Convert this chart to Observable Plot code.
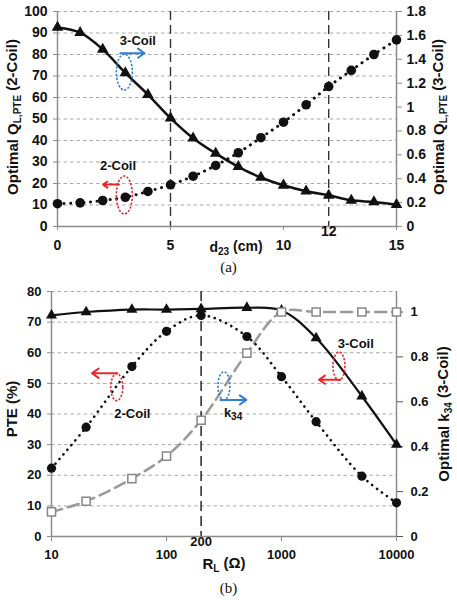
<!DOCTYPE html>
<html><head><meta charset="utf-8">
<script src="https://cdn.jsdelivr.net/npm/d3@7"></script>
<script src="https://cdn.jsdelivr.net/npm/@observablehq/plot@0.6"></script>
<style>
body{margin:0;background:#fff;}
#wrap{position:relative;width:457px;height:600px;font-family:"Liberation Sans",Arial,sans-serif;}
#a,#b{position:absolute;left:0;}
#a{top:0px}
#b{top:280px}
#a svg text, #b svg text{font-family:"Liberation Sans",Arial,sans-serif;font-weight:bold;}
.cap{position:absolute;left:0;width:457px;text-align:center;font-family:"Liberation Serif","Times New Roman",serif;font-size:15px;line-height:17px;color:#111;}
</style></head><body>
<div id="wrap">
  <div id="a"></div>
  <div class="cap" style="top:259px">(a)</div>
  <div id="b"></div>
  <div class="cap" style="top:580px">(b)</div>
</div>
<script>
// ---------- Panel (a) data ----------
const d23 = [0,1,2,3,4,5,6,7,8,9,10,11,12,13,14,15];
const qlTwoCoil = [10.6,11.0,12.1,13.6,16.3,19.4,23.4,28.4,34.3,41.3,48.5,56.6,65.1,72.6,80.0,86.8];
const qlThreeCoil = [1.666,1.623,1.483,1.286,1.104,0.907,0.739,0.612,0.500,0.410,0.345,0.295,0.261,0.219,0.205,0.183];
const aLeftTicks = [0,10,20,30,40,50,60,70,80,90,100];
const aRightTicks = [0,0.2,0.4,0.6,0.8,1,1.2,1.4,1.6,1.8];
const aXTicks = [0,5,10,15];
const aMarkers = [5,12];
const aRaisedLabel = [12];

// ---------- Panel (b) data ----------
const RL = [10,20,50,100,200,500,1000,2000,5000,10000];
const pteTwoCoil = [22.3,35.7,55.5,67.0,72.2,65.3,52.2,37.5,19.7,11.0];
const pteThreeCoil = [72.2,73.3,74.1,74.1,74.3,74.7,73.8,64.8,45.8,30.0];
const k34 = [0.110,0.157,0.258,0.358,0.518,0.817,1.0,1.0,1.0,1.0];
const bLeftTicks = [0,10,20,30,40,50,60,70,80];
const bRightTicks = [0,0.2,0.4,0.6,0.8,1];
const bXTicks = [10,100,1000,10000];
const bMarkers = [200];
const bRaisedLabel = [200];

const kA = 100/1.8;   // right axis -> left axis units (a)
const kB = 73.3;      // right axis -> left axis units (b)

const A = d23.map((d,i)=>({d, two: qlTwoCoil[i], three: qlThreeCoil[i]*kA}));
const B = RL.map((r,i)=>({r, two: pteTwoCoil[i], three: pteThreeCoil[i], k: k34[i]*kB}));

const RED = "#e8262b", BLUE = "#2f7fd6";

function addParts(t, parts, sub){
  for (const [s, isSub] of parts){
    const ts = t.append("tspan").text(s);
    if (isSub) ts.attr("font-size", sub).attr("dy", "0.3em");
    else if (t.node().childNodes.length>1) ts.attr("dy", "-0.3em");
  }
}

function annotations(items){
  return (index, scales) => {
    const g = d3.create("svg:g");
    for (const a of items){
      const px = scales.x(a.x), py = scales.y(a.y);
      if (a.type === "ellipse"){
        g.append("ellipse").attr("cx",px).attr("cy",py).attr("rx",a.rx).attr("ry",a.ry)
          .attr("fill","none").attr("stroke",a.color).attr("stroke-width",1.6).attr("stroke-dasharray","2.2,1.6");
      } else {
        const t = g.append("text").attr("x",px).attr("y",py).attr("text-anchor","middle")
          .attr("dy","0.35em").attr("font-weight","bold").attr("font-size",13).attr("fill","#111");
        addParts(t, a.parts, 10);
      }
    }
    return g.node();
  };
}

const baseStyle = {fontFamily:"'Liberation Sans', Arial, sans-serif", fontWeight:"bold", background:"transparent", color:"#111"};

// ---------- Panel (a) ----------
const annA = [
  {type:"text", x:3.58, y:86.2, parts:[["3-Coil",false]]},
  {type:"text", x:2.7, y:28, parts:[["2-Coil",false]]},
  {type:"ellipse", x:2.98, y:71.6, rx:8, ry:18, color:BLUE},
  {type:"ellipse", x:2.98, y:14.4, rx:8, ry:19, color:RED}
];
const arrowsA_blue = [{x1:2.78, y1:80.6, x2:3.85, y2:80.6}];
const arrowsA_red = [{x1:2.72, y1:19.5, x2:2.02, y2:19.5}];

const plotA = Plot.plot({
  width:457, height:262, marginTop:11, marginBottom:36, marginLeft:57, marginRight:61,
  style:{...baseStyle, fontSize:"14px"},
  x:{domain:[0,15]}, y:{domain:[0,100]},
  marks:[
    Plot.gridY(aLeftTicks.slice(1), {stroke:"#a8a8a8", strokeOpacity:1, strokeDasharray:"3.5,3"}),
    Plot.ruleX(aMarkers, {stroke:"#333", strokeWidth:1.4, strokeDasharray:"9,5"}),
    Plot.ruleY([0], {stroke:"#8c8c8c", strokeWidth:1.5}),
    Plot.ruleX([0], {stroke:"#8c8c8c", strokeWidth:1.5}),
    Plot.ruleX([15], {stroke:"#8c8c8c", strokeWidth:1.5}),
    Plot.axisY(aLeftTicks, {anchor:"left", tickSize:4, tickPadding:6, stroke:"#8c8c8c", fill:"#111", label:null}),
    Plot.axisY(aRightTicks.map(v=>v*kA), {anchor:"right", tickSize:5, tickPadding:5, stroke:"#8c8c8c", fill:"#111", label:null,
      tickFormat: d => String(+(d/kA).toFixed(1))}),
    Plot.axisX(aXTicks, {anchor:"bottom", tickSize:4, tickPadding:10, stroke:"#8c8c8c", fill:"#111", label:null, tickFormat:d=>String(d)}),
    Plot.text(aRaisedLabel, {x:d=>d, frameAnchor:"bottom", dy:9, text:d=>String(d), fill:"#111"}),
    Plot.line(A, {x:"d", y:"two", stroke:"#111", strokeWidth:3, strokeDasharray:"0.1,6.5", strokeLinecap:"round", curve:"catmull-rom"}),
    Plot.line(A, {x:"d", y:"three", stroke:"#111", strokeWidth:2.5, curve:"catmull-rom"}),
    Plot.dot(A, {x:"d", y:"two", r:4.8, fill:"#111", stroke:"none"}),
    Plot.dot(A, {x:"d", y:"three", r:4.3, symbol:"triangle", fill:"#111", stroke:"none"}),
    Plot.arrow(arrowsA_blue, {x1:"x1", y1:"y1", x2:"x2", y2:"y2", stroke:BLUE, strokeWidth:2, headLength:6, headAngle:70}),
    Plot.arrow(arrowsA_red, {x1:"x1", y1:"y1", x2:"x2", y2:"y2", stroke:RED, strokeWidth:2, headLength:6, headAngle:70}),
    annotations(annA)
  ]
});
document.getElementById("a").appendChild(plotA);
{
  const s = d3.select(plotA);
  let t = s.append("text").attr("transform","translate(13,117) rotate(-90)").attr("text-anchor","middle").attr("dy","0.35em")
    .attr("font-size",15).attr("font-weight","bold").attr("fill","#111");
  addParts(t, [["Optimal Q",false],["L,PTE",true],[" (2-Coil)",false]], 10);
  t = s.append("text").attr("transform","translate(439,117) rotate(-90)").attr("text-anchor","middle").attr("dy","0.35em")
    .attr("font-size",15).attr("font-weight","bold").attr("fill","#111");
  addParts(t, [["Optimal Q",false],["L,PTE",true],[" (3-Coil)",false]], 10);
  t = s.append("text").attr("x",236).attr("y",247).attr("text-anchor","middle").attr("dy","0.35em")
    .attr("font-size",14).attr("font-weight","bold").attr("fill","#111");
  addParts(t, [["d",false],["23",true],[" (cm)",false]], 10);
}

// ---------- Panel (b) ----------
const annB = [
  {type:"text", x:51, y:40, parts:[["2-Coil",false]]},
  {type:"text", x:383, y:40.2, parts:[["k",false],["34",true]]},
  {type:"text", x:4467, y:62.8, parts:[["3-Coil",false]]},
  {type:"ellipse", x:37.3, y:48.6, rx:6, ry:13.5, color:RED},
  {type:"ellipse", x:319, y:49, rx:6, ry:14, color:BLUE},
  {type:"ellipse", x:3190, y:55.5, rx:6, ry:14, color:RED}
];
const arrowsB_red = [
  {x1:37.3, y1:53.3, x2:22.5, y2:53.3},
  {x1:3258, y1:51.2, x2:2120, y2:51.2}
];
const arrowsB_blue = [{x1:295, y1:44.6, x2:495, y2:44.6}];

const plotB = Plot.plot({
  width:457, height:295, marginTop:11, marginBottom:39, marginLeft:51, marginRight:61,
  style:{...baseStyle, fontSize:"13px"},
  x:{type:"log", domain:[10,10000]}, y:{domain:[0,80]},
  marks:[
    Plot.gridY(bLeftTicks.slice(1), {stroke:"#a8a8a8", strokeOpacity:1, strokeDasharray:"3.5,3"}),
    Plot.ruleX(bMarkers, {stroke:"#333", strokeWidth:1.6, strokeDasharray:"10,5"}),
    Plot.ruleY([0], {stroke:"#8c8c8c", strokeWidth:1.5}),
    Plot.ruleX([10], {stroke:"#8c8c8c", strokeWidth:1.5}),
    Plot.ruleX([10000], {stroke:"#8c8c8c", strokeWidth:1.5}),
    Plot.axisY(bLeftTicks, {anchor:"left", tickSize:4, tickPadding:6, stroke:"#8c8c8c", fill:"#111", label:null}),
    Plot.axisY(bRightTicks.map(v=>v*kB), {anchor:"right", tickSize:6, tickPadding:8, stroke:"#555", fill:"#111", label:null,
      tickFormat: d => String(+(d/kB).toFixed(1))}),
    Plot.axisX(bXTicks, {anchor:"bottom", tickSize:5, tickPadding:8, stroke:"#8c8c8c", fill:"#111", label:null, tickFormat:d=>String(d)}),
    Plot.text(bRaisedLabel, {x:d=>d, frameAnchor:"bottom", dy:9, text:d=>String(d), fill:"#111"}),
    Plot.line(B, {x:"r", y:"k", stroke:"#999", strokeWidth:2.5, strokeDasharray:"11,6", curve:"catmull-rom"}),
    Plot.line(B, {x:"r", y:"two", stroke:"#111", strokeWidth:2.6, strokeDasharray:"0.1,6", strokeLinecap:"round", curve:"catmull-rom"}),
    Plot.line(B, {x:"r", y:"three", stroke:"#111", strokeWidth:2.2, curve:"catmull-rom"}),
    Plot.dot(B, {x:"r", y:"two", r:4.6, fill:"#111", stroke:"none"}),
    Plot.dot(B, {x:"r", y:"three", r:4.1, symbol:"triangle", fill:"#111", stroke:"none"}),
    Plot.dot(B, {x:"r", y:"k", r:4.6, symbol:"square", fill:"#fff", stroke:"#888", strokeWidth:1.5}),
    Plot.arrow(arrowsB_red, {x1:"x1", y1:"y1", x2:"x2", y2:"y2", stroke:RED, strokeWidth:2, headLength:6, headAngle:70}),
    Plot.arrow(arrowsB_blue, {x1:"x1", y1:"y1", x2:"x2", y2:"y2", stroke:BLUE, strokeWidth:2, headLength:6, headAngle:70}),
    annotations(annB)
  ]
});
document.getElementById("b").appendChild(plotB);
{
  const s = d3.select(plotB);
  let t = s.append("text").attr("transform","translate(12,129) rotate(-90)").attr("text-anchor","middle").attr("dy","0.35em")
    .attr("font-size",15).attr("font-weight","bold").attr("fill","#111").text("PTE (%)");
  t = s.append("text").attr("transform","translate(444,134) rotate(-90)").attr("text-anchor","middle").attr("dy","0.35em")
    .attr("font-size",15).attr("font-weight","bold").attr("fill","#111");
  addParts(t, [["Optimal k",false],["34",true],[" (3-Coil)",false]], 10);
  t = s.append("text").attr("x",224).attr("y",284).attr("text-anchor","middle").attr("dy","0.35em")
    .attr("font-size",15).attr("font-weight","bold").attr("fill","#111");
  addParts(t, [["R",false],["L",true],[" (\u03A9)",false]], 10);
}
</script>
</body></html>
